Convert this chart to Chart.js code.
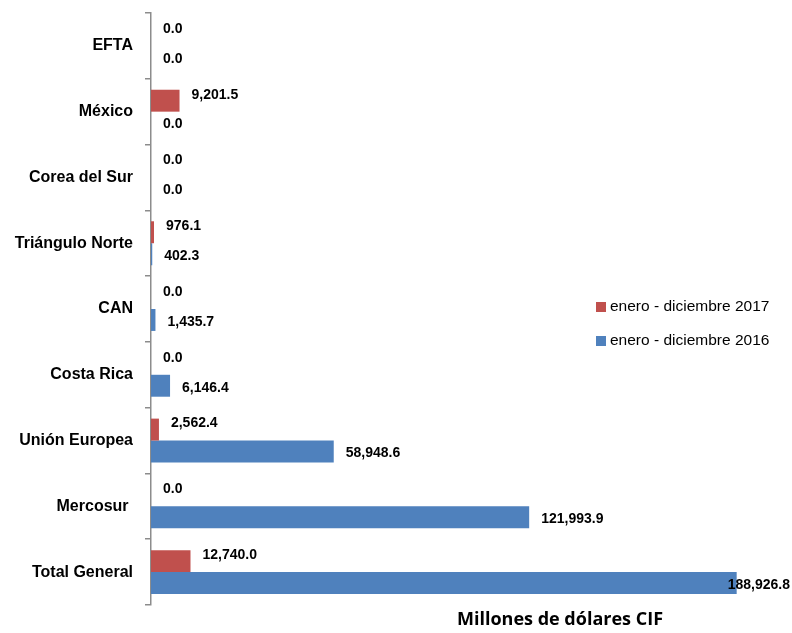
<!DOCTYPE html>
<html>
<head>
<meta charset="utf-8">
<script src="https://cdn.jsdelivr.net/npm/chart.js@4"></script>
<style>
html,body{margin:0;padding:0;background:#fff;}
#wrap{width:792px;height:633px;position:relative;}
</style>
</head>
<body>
<div id="wrap"><canvas id="c" width="792" height="633"></canvas></div>
<script>
const categories = ["EFTA","México","Corea del Sur","Triángulo Norte","CAN","Costa Rica","Unión Europea","Mercosur ","Total General"];
const values2017 = [0, 9201.5, 0, 976.1, 0, 0, 2562.4, 0, 12740.0];
const values2016 = [0, 0, 0, 402.3, 1435.7, 6146.4, 58948.6, 121993.9, 188926.8];
const seriesLabels = ["enero - diciembre 2017","enero - diciembre 2016"];
const axisTitle = "Millones de dólares CIF";

const fmt = v => v.toLocaleString('en-US',{minimumFractionDigits:1,maximumFractionDigits:1});

const valueLabels = {
  id:'valueLabels',
  afterDatasetsDraw(chart){
    const ctx = chart.ctx;
    ctx.save();
    ctx.font = 'bold 14px "Liberation Sans", Arial, sans-serif';
    ctx.fillStyle = '#000';
    ctx.textBaseline = 'middle';
    chart.data.datasets.forEach((ds, di) => {
      const meta = chart.getDatasetMeta(di);
      const dy = di === 0 ? -6 : 2;
      meta.data.forEach((bar, i) => {
        const txt = fmt(ds.data[i]);
        const w = ctx.measureText(txt).width;
        let x = bar.x + 12;
        if (x + w > chart.width - 2) x = chart.width - 2 - w;
        ctx.textAlign = 'left';
        ctx.fillText(txt, x, bar.y + dy);
      });
    });
    ctx.restore();
  }
};

const customLegend = {
  id:'customLegend',
  afterDraw(chart){
    const ctx = chart.ctx;
    ctx.save();
    ctx.font = '15.5px "Liberation Sans", Arial, sans-serif';
    ctx.textBaseline = 'middle';
    ctx.textAlign = 'left';
    const ys = [307, 341];
    chart.data.datasets.forEach((ds, di) => {
      ctx.fillStyle = ds.backgroundColor;
      ctx.fillRect(596, ys[di]-5, 10, 10);
      ctx.fillStyle = '#000';
      ctx.fillText(ds.label, 610, ys[di]);
    });
    ctx.font = 'bold 18px "Open Sans", sans-serif';
    ctx.textAlign = 'center';
    ctx.fillText(axisTitle, 560, 620);
    ctx.restore();
  }
};

new Chart(document.getElementById('c'), {
  type:'bar',
  data:{
    labels: categories,
    datasets:[
      {label: seriesLabels[0], data: values2017, backgroundColor:'#C0504D', categoryPercentage:0.667, barPercentage:1.0},
      {label: seriesLabels[1], data: values2016, backgroundColor:'#4F81BD', categoryPercentage:0.667, barPercentage:1.0}
    ]
  },
  options:{
    indexAxis:'y',
    responsive:false,
    animation:false,
    layout:{padding:{top:13,bottom:28,left:0,right:21}},
    plugins:{legend:{display:false},tooltip:{enabled:false}},
    scales:{
      x:{display:false,min:0,max:200000},
      y:{
        afterFit(s){ s.width = 151; s.paddingTop = 0; s.paddingBottom = 0; },
        border:{display:true,color:'#8c8c8c',width:1.5},
        grid:{drawOnChartArea:false,drawTicks:true,tickLength:6,color:'#8c8c8c',lineWidth:1.5,offset:true},
        ticks:{color:'#000',padding:12,font:{family:'"Liberation Sans", Arial, sans-serif',size:16,weight:'bold'}}
      }
    }
  },
  plugins:[valueLabels, customLegend]
});
</script>
</body>
</html>
